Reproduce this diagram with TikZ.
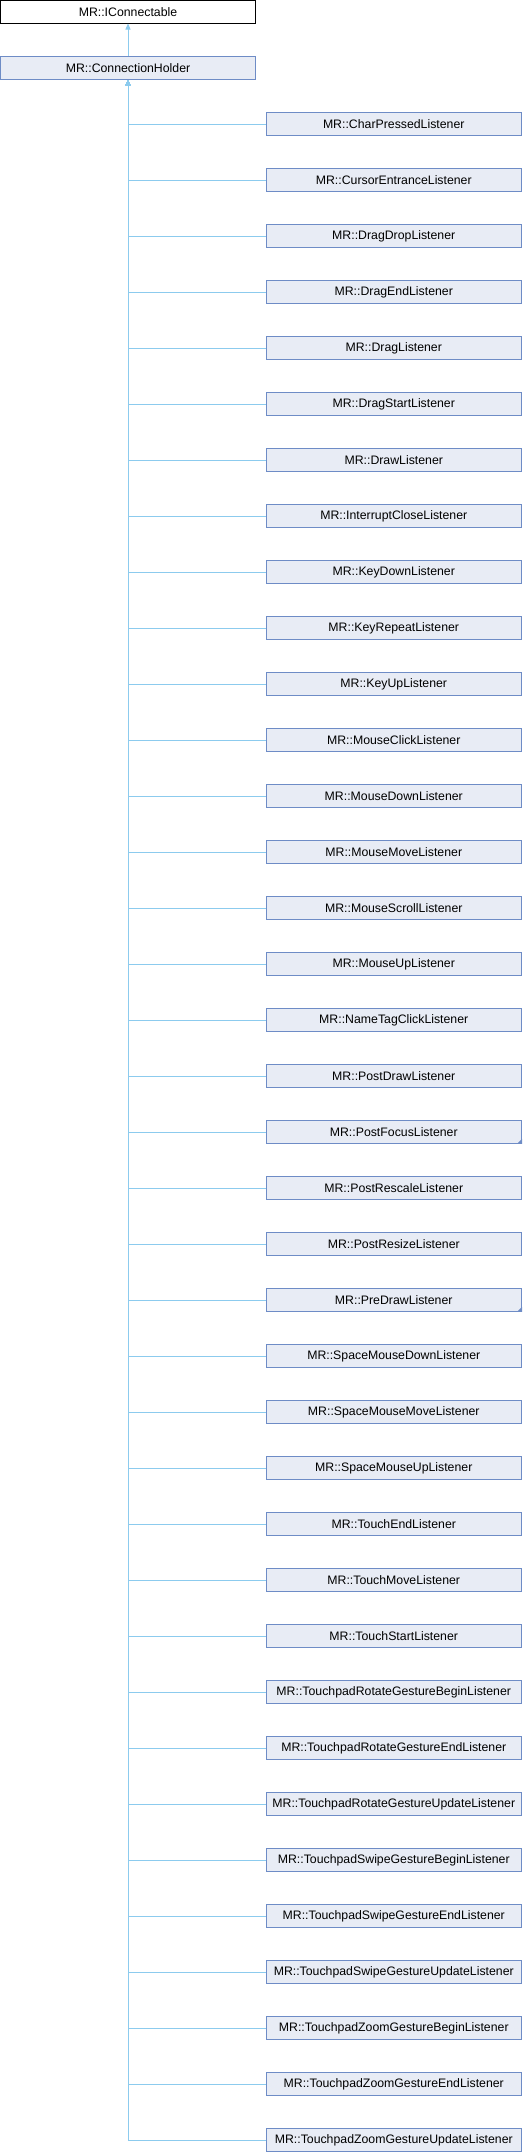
\documentclass[tikz,border=0pt]{standalone}
\usepackage{fontspec}
\setmainfont{Liberation Sans}
\usetikzlibrary{positioning, arrows.meta}

\definecolor{boxfill}{HTML}{E8ECF5}
\definecolor{boxline}{HTML}{6E8CC6}
\definecolor{edgeblue}{HTML}{8CCBEE}

\tikzset{
  classbox/.style={draw=boxline, fill=boxfill, line width=1pt, inner sep=0pt,
    minimum height=22.5pt, font=\fontsize{12.3}{14}\selectfont},
  rootbox/.style={classbox, draw=black, fill=white},
  edge/.style={draw=edgeblue, line width=1pt, {Triangle[width=5pt,length=6pt]}-},
}

\begin{document}
\begin{tikzpicture}[x=1pt, y=-1pt]
\useasboundingbox (0,0) rectangle (522,2152);
\node[rootbox, minimum width=255pt] (iconn) at (128,11.75) {MR::IConnectable};
\node[classbox, minimum width=255pt] (holder) at (128,68) {MR::ConnectionHolder};
\draw[edge] (iconn.south) -- (holder.north);

\foreach \cls [count=\i from 0] in {CharPressed, CursorEntrance, DragDrop, DragEnd, Drag,
    DragStart, Draw, InterruptClose, KeyDown, KeyRepeat, KeyUp, MouseClick, MouseDown,
    MouseMove, MouseScroll, MouseUp, NameTagClick, PostDraw, PostFocus, PostRescale,
    PostResize, PreDraw, SpaceMouseDown, SpaceMouseMove, SpaceMouseUp, TouchEnd,
    TouchMove, TouchStart, TouchpadRotateGestureBegin, TouchpadRotateGestureEnd,
    TouchpadRotateGestureUpdate, TouchpadSwipeGestureBegin, TouchpadSwipeGestureEnd,
    TouchpadSwipeGestureUpdate, TouchpadZoomGestureBegin, TouchpadZoomGestureEnd,
    TouchpadZoomGestureUpdate}
{
  \node[classbox, minimum width=255.5pt] (c\i) at (393.75,{124+56*\i}) {MR::\cls Listener};
  \draw[edge] (holder.south) |- (c\i.west);
}

% truncated marks
\foreach \k in {18,21}
  \fill[boxline] (c\k.south east) -- ++(-5,0) -- ++(5,-5) -- cycle;
\end{tikzpicture}
\end{document}
